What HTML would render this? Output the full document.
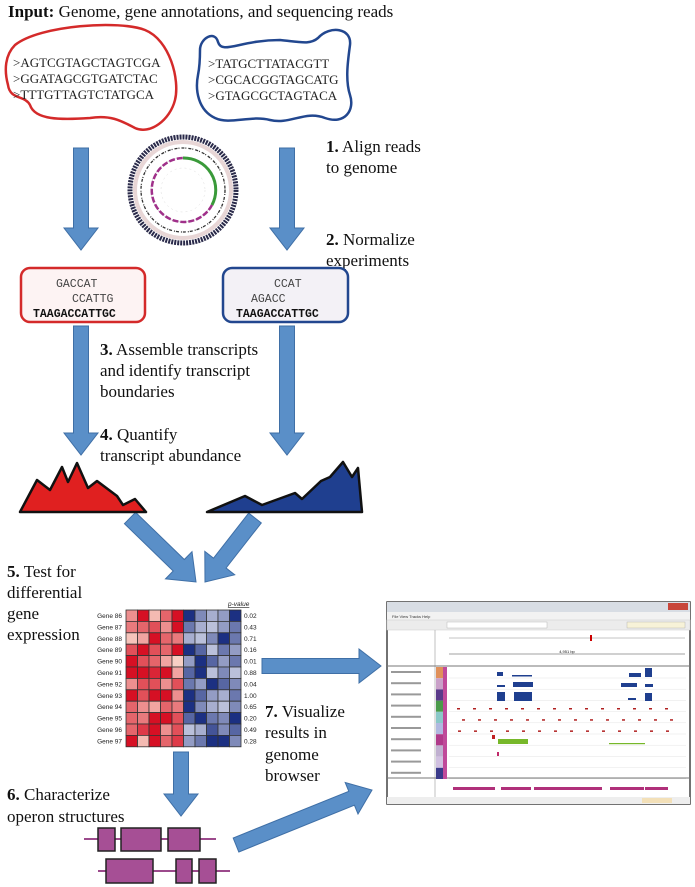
<!DOCTYPE html>
<html><head><meta charset="utf-8"><style>
html,body{margin:0;padding:0;background:#fff;}
svg{display:block;font-family:"Liberation Serif",serif;}
.mono{font-family:"Liberation Mono",monospace;}
.sans{font-family:"Liberation Sans",sans-serif;}
</style></head><body>
<svg id="fig" width="695" height="887" viewBox="0 0 695 887" xmlns="http://www.w3.org/2000/svg">
<g id="arrows"></g>

<text x="8" y="17" font-size="17" fill="#111"><tspan font-weight="bold">Input:</tspan> Genome, gene annotations, and sequencing reads</text>

<path d="M15,45 C40,25 120,20 145,30 C170,40 180,80 175,100 C170,120 150,135 135,128 C120,120 110,115 90,118 C60,120 35,120 30,105 C25,95 10,100 8,85 C4,70 5,55 15,45 Z" fill="none" stroke="#d42a2a" stroke-width="2.5"/>
<path d="M200,50 C200,38 215,30 218,42 C222,55 240,40 280,40 C300,42 310,45 318,38 C330,25 352,28 350,45 C348,60 345,80 350,95 C355,110 345,125 325,118 C305,110 290,125 270,120 C250,115 230,125 215,118 C198,110 195,90 198,75 C200,65 200,58 200,50 Z" fill="none" stroke="#22478f" stroke-width="2.5"/>
<g font-size="13" fill="#222">
<text x="13" y="67">&gt;AGTCGTAGCTAGTCGA</text>
<text x="13" y="83">&gt;GGATAGCGTGATCTAC</text>
<text x="13" y="99">&gt;TTTGTTAGTCTATGCA</text>
</g>
<g font-size="13" fill="#222">
<text x="208" y="68">&gt;TATGCTTATACGTT</text>
<text x="208" y="84">&gt;CGCACGGTAGCATG</text>
<text x="208" y="100">&gt;GTAGCGCTAGTACA</text>
</g>

<g>
<circle cx="183" cy="190" r="53" fill="none" stroke="#2a2a4a" stroke-width="5" stroke-dasharray="2 1"/>
<circle cx="183" cy="190" r="48" fill="none" stroke="#e8d6d6" stroke-width="4"/>
<circle cx="183" cy="190" r="42" fill="none" stroke="#333" stroke-width="1.3" stroke-dasharray="3 1 1 2"/>
<circle cx="183" cy="190" r="32" fill="none" stroke="#ccc" stroke-width="0.6"/>
<path d="M183,158 A32,32 0 0 1 212,205" fill="none" stroke="#3a9a3a" stroke-width="3"/>
<path d="M212,205 A32,32 0 1 1 183,158" fill="none" stroke="#a0308a" stroke-width="2.5" stroke-dasharray="6 2"/>
<circle cx="183" cy="190" r="22" fill="none" stroke="#ddd" stroke-width="0.5" stroke-dasharray="2 3"/>
</g>

<g font-size="17" fill="#111">
<text x="326" y="152"><tspan font-weight="bold">1.</tspan> Align reads</text>
<text x="326" y="173">to genome</text>
<text x="326" y="245"><tspan font-weight="bold">2.</tspan> Normalize</text>
<text x="326" y="266">experiments</text>
<text x="100" y="355"><tspan font-weight="bold">3.</tspan> Assemble transcripts</text>
<text x="100" y="376">and identify transcript</text>
<text x="100" y="397">boundaries</text>
<text x="100" y="440"><tspan font-weight="bold">4.</tspan> Quantify</text>
<text x="100" y="461">transcript abundance</text>
<text x="7" y="577"><tspan font-weight="bold">5.</tspan> Test for</text>
<text x="7" y="598">differential</text>
<text x="7" y="619">gene</text>
<text x="7" y="640">expression</text>
<text x="265" y="717"><tspan font-weight="bold">7.</tspan> Visualize</text>
<text x="265" y="738">results in</text>
<text x="265" y="760">genome</text>
<text x="265" y="781">browser</text>
<text x="7" y="800"><tspan font-weight="bold">6.</tspan> Characterize</text>
<text x="7" y="822">operon structures</text>
</g>

<rect x="21" y="268" width="124" height="54" rx="9" fill="#fdf3f3" stroke="#d42a2a" stroke-width="2.5"/>
<rect x="223" y="268" width="125" height="54" rx="9" fill="#f3f1f6" stroke="#22478f" stroke-width="2.5"/>
<g class="mono" font-size="11.5" fill="#444">
<text x="56" y="287">GACCAT</text>
<text x="72" y="302">CCATTG</text>
<text x="33" y="317" font-weight="bold" fill="#111">TAAGACCATTGC</text>
<text x="274" y="287">CCAT</text>
<text x="251" y="302">AGACC</text>
<text x="236" y="317" font-weight="bold" fill="#111">TAAGACCATTGC</text>
</g>

<polygon points="20,512 37,480 50,490 62,467 68,482 77,463 88,488 97,481 117,496 123,505 135,499 146,512" fill="#e02020" stroke="#111" stroke-width="2.5" stroke-linejoin="round"/>
<polygon points="207,512 245,496 262,505 295,493 302,499 321,481 330,477 343,462 352,477 358,468 362,512" fill="#1f3f8f" stroke="#111" stroke-width="2.5" stroke-linejoin="round"/>

<g id="heatmap"></g>

<g stroke="#222" stroke-width="1.5" fill="#a64f95">
<line x1="84" y1="839" x2="216" y2="839" stroke="#9c4a8c" stroke-width="2"/>
<rect x="98" y="828" width="17" height="23"/>
<rect x="121" y="828" width="40" height="23"/>
<rect x="168" y="828" width="32" height="23"/>
<line x1="98" y1="871" x2="230" y2="871" stroke="#9c4a8c" stroke-width="2"/>
<rect x="106" y="859" width="47" height="24"/>
<rect x="176" y="859" width="16" height="24"/>
<rect x="199" y="859" width="17" height="24"/>
</g>

<g id="browser" class="sans"></g>
</svg>
<script>
var NS="http://www.w3.org/2000/svg";
function mk(parent,tag,attrs){var e=document.createElementNS(NS,tag);for(var k in attrs)e.setAttribute(k,attrs[k]);parent.appendChild(e);return e;}

/* heatmap data */
var genes=["Gene 86","Gene 87","Gene 88","Gene 89","Gene 90","Gene 91","Gene 92","Gene 93","Gene 94","Gene 95","Gene 96","Gene 97"];
var pvalues=["0.02","0.43","0.71","0.16","0.01","0.88","0.04","1.00","0.65","0.20","0.49","0.28"];
var redVals=[[0.4,1,0.2,0.6,1],[0.5,0.6,0.7,0.4,1],[0.15,0.3,1,0.6,0.5],[0.7,1,0.7,0.6,1],[1,0.7,0.6,0.3,0.1],[1,1,0.9,1,0.3],[0.4,0.7,0.7,0.4,0.7],[1,0.7,1,1,0.4],[0.6,0.4,0.3,0.6,0.5],[0.6,0.5,1,1,0.7],[0.6,0.8,1,0.4,0.7],[1,0.2,1,0.6,0.8]];
var blueVals=[[1,0.5,0.3,0.4,1],[0.6,0.3,0.2,0.4,0.6],[0.3,0.2,0.5,1,0.6],[1,0.7,0.2,0.6,0.4],[0.4,1,0.7,0.4,0.6],[0.7,1,0.2,0.5,0.2],[0.6,0.4,1,0.7,0.5],[1,0.7,0.4,0.3,0.6],[1,0.5,0.3,0.2,0.5],[0.7,1,0.6,0.5,1],[0.2,0.3,0.8,0.5,0.7],[0.4,0.6,1,1,0.5]];

var hx0=126,hy0=610,cw=11.5,ch=11.4;
function colX(i){return hx0+i*cw;}
function rowY(j){return hy0+j*ch;}
function mix(a,b,t){return "rgb("+a.map(function(v,i){return Math.round(v+(b[i]-v)*t);}).join(",")+")";}
var hm=document.getElementById("heatmap");
var hh=mk(hm,"text",{x:228,y:606,"font-size":"6.5","font-style":"italic","text-decoration":"underline",fill:"#222"});
hh.textContent="p-value";


hh.setAttribute('class','sans');
genes.forEach(function(g,j){
  var t=mk(hm,"text",{x:122,y:rowY(j)+8,"font-size":"6.5","text-anchor":"end",fill:"#222",class:"sans"});
  t.textContent=g;
  
  
  var p=mk(hm,"text",{x:244,y:rowY(j)+8,"font-size":"6.5",fill:"#222",class:"sans"});
  p.textContent=pvalues[j];
  
  
  redVals[j].forEach(function(v,i){
    var r=mk(hm,"rect",{x:colX(i),y:rowY(j),width:cw,height:ch,fill:mix([252,228,214],[214,16,36],v),stroke:"#333","stroke-width":"0.8"});
    
    
  });
  blueVals[j].forEach(function(v,i){
    var r=mk(hm,"rect",{x:colX(i+5),y:rowY(j),width:cw,height:ch,fill:mix([226,228,240],[28,48,130],v),stroke:"#333","stroke-width":"0.8"});
    
    
  });
});

/* arrows */
var ag=document.getElementById("arrows");
function arrow(name,x1,y1,x2,y2,sw,hw,hl){
  var dx=x2-x1,dy=y2-y1,L=Math.sqrt(dx*dx+dy*dy),ux=dx/L,uy=dy/L,nx=-uy,ny=ux;
  var bx=x2-ux*hl,by=y2-uy*hl;
  var pts=[[x1+nx*sw/2,y1+ny*sw/2],[bx+nx*sw/2,by+ny*sw/2],[bx+nx*hw/2,by+ny*hw/2],[x2,y2],[bx-nx*hw/2,by-ny*hw/2],[bx-nx*sw/2,by-ny*sw/2],[x1-nx*sw/2,y1-ny*sw/2]];
  var p=mk(ag,"polygon",{points:pts.map(function(q){return q[0].toFixed(1)+","+q[1].toFixed(1);}).join(" "),fill:"#5a8fc8",stroke:"#3f6fa6","stroke-width":"1"});
  
  
}
arrow("arrow-align-left",81,148,81,250,15,34,22);
arrow("arrow-align-right",287,148,287,250,15,34,22);
arrow("arrow-assemble-left",81,326,81,455,15,34,22);
arrow("arrow-assemble-right",287,326,287,455,15,34,22);
arrow("arrow-test-left",130,518,196,582,16,38,24);
arrow("arrow-test-right",255,518,205,582,16,38,24);
arrow("arrow-to-browser",262,666,381,666,15,34,22);
arrow("arrow-to-operon",181,752,181,816,15,34,22);
arrow("arrow-operon-browser",236,845,372,790,15,34,22);

/* genome browser */
var b=document.getElementById("browser");
var X0=387,Y0=602,W=303,H=202;
mk(b,"rect",{x:X0,y:Y0,width:W,height:H,fill:"#fff",stroke:"#444","stroke-width":"1.5"});
mk(b,"rect",{x:X0,y:Y0,width:W,height:10,fill:"#d8dde4"});
mk(b,"rect",{x:X0+W-22,y:Y0+1,width:20,height:7,fill:"#c8463a"});
mk(b,"rect",{x:X0,y:Y0+10,width:W,height:8,fill:"#f2f2f2"});
mk(b,"rect",{x:X0,y:Y0+18,width:W,height:10,fill:"#ececec",stroke:"#ccc","stroke-width":"0.5"});
var mt=mk(b,"text",{x:X0+5,y:Y0+16,"font-size":"4",fill:"#333"});mt.textContent="File  View  Tracks  Help";
mk(b,"rect",{x:X0+60,y:Y0+20,width:100,height:6,fill:"#fff",stroke:"#aaa","stroke-width":"0.4"});
mk(b,"rect",{x:X0+240,y:Y0+20,width:58,height:6,fill:"#f7f2d8",stroke:"#aaa","stroke-width":"0.4"});
var tp=Y0+28;
mk(b,"line",{x1:X0+48,y1:tp,x2:X0+48,y2:Y0+195,stroke:"#999","stroke-width":"0.6"});
mk(b,"line",{x1:X0,y1:tp+36,x2:X0+W,y2:tp+36,stroke:"#777","stroke-width":"1"});
mk(b,"line",{x1:X0,y1:Y0+176,x2:X0+W,y2:Y0+176,stroke:"#777","stroke-width":"1"});
mk(b,"rect",{x:X0,y:Y0+195,width:W,height:7,fill:"#eee"});
mk(b,"rect",{x:X0+255,y:Y0+196,width:30,height:5,fill:"#f3e0b8"});
mk(b,"line",{x1:X0+62,y1:tp+8,x2:X0+W-5,y2:tp+8,stroke:"#888","stroke-width":"0.5"});
mk(b,"rect",{x:X0+203,y:tp+5,width:2,height:6,fill:"#c00"});
mk(b,"line",{x1:X0+62,y1:tp+24,x2:X0+W-5,y2:tp+24,stroke:"#444","stroke-width":"0.6"});
var rt=mk(b,"text",{x:X0+180,y:tp+23,"font-size":"4",fill:"#111","text-anchor":"middle"});rt.textContent="4,951 bp";
var sc=["#e0905a","#c9a0c8","#5a3a8a","#4a9a4a","#8ac8c8","#b0b8e0","#b03a8a","#c0b0d0","#d0c0e0","#3a3a8a"];
for(var i=0;i<10;i++){mk(b,"rect",{x:X0+49,y:tp+37+i*11.2,width:7,height:11.2,fill:sc[i]});}
mk(b,"rect",{x:X0+56,y:tp+37,width:4,height:112,fill:"#c04a9a"});
for(var i=0;i<10;i++){
  var ty=tp+37+i*11.2;
  mk(b,"rect",{x:X0+4,y:ty+4,width:30,height:2,fill:"#999"});
  mk(b,"line",{x1:X0+62,y1:ty+11,x2:X0+W-4,y2:ty+11,stroke:"#ddd","stroke-width":"0.4"});
}
function rect(x,y,w,h,c){mk(b,"rect",{x:x,y:y,width:w,height:h,fill:c});}
var bl="#1f3f8f";
rect(X0+110,tp+42,6,4,bl);rect(X0+125,tp+45,20,1.5,bl);rect(X0+242,tp+43,12,4,bl);rect(X0+258,tp+38,7,9,bl);
rect(X0+110,tp+55,8,2,bl);rect(X0+126,tp+52,20,5,bl);rect(X0+234,tp+53,16,4,bl);rect(X0+258,tp+54,8,3,bl);
rect(X0+110,tp+62,8,9,bl);rect(X0+127,tp+62,18,9,bl);rect(X0+241,tp+68,8,2,bl);rect(X0+258,tp+63,7,8,bl);
var rc="#b02020";
for(var k=0;k<3;k++){for(var i=0;i<14;i++){rect(X0+70+i*16+(k*5%9),tp+78+k*11.2,3,1.5,rc);}}
rect(X0+105,tp+105,3,4,"#c02020");
rect(X0+111,tp+109,30,5,"#77b82a");rect(X0+222,tp+113,36,1.2,"#77b82a");
rect(X0+110,tp+122,2,4,"#c02a6a");
[[66,42],[114,30],[147,68],[223,34],[258,23]].forEach(function(s){rect(X0+s[0],Y0+185,s[1],3,"#b0307a");});
</script>
</body></html>
